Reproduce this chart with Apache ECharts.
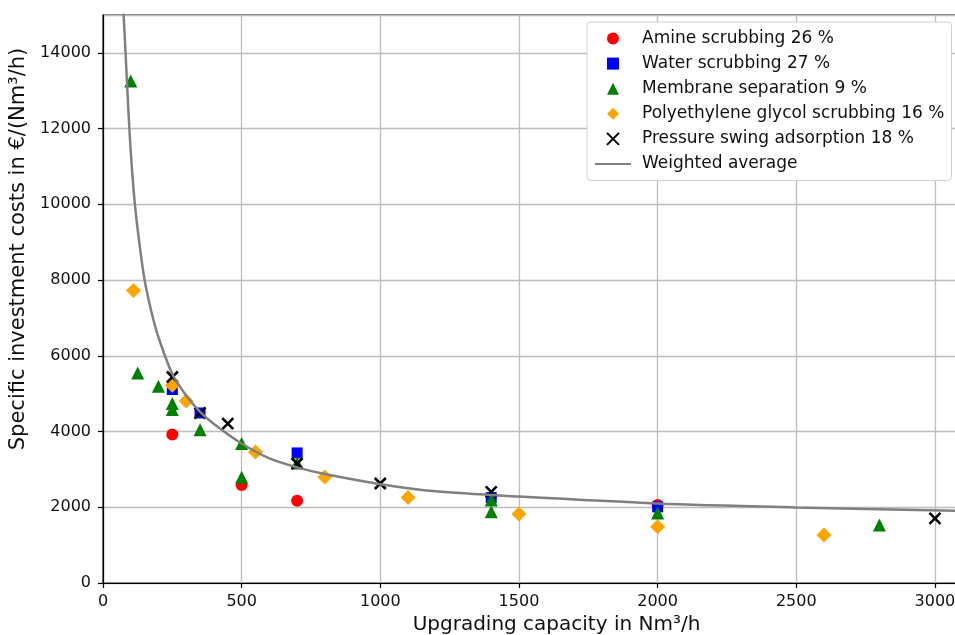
<!DOCTYPE html>
<html>
<head>
<meta charset="utf-8">
<script src="https://cdn.jsdelivr.net/npm/echarts@6/dist/echarts.min.js"></script>
<style>
  html, body { margin: 0; padding: 0; background: #fff; }
  #chart { width: 955px; height: 635px; }
</style>
</head>
<body>
<div id="chart"></div>
<script>
// values
const amineX = [250, 500, 700, 2000]
const amineY = [3920, 2590, 2170, 2060]
const waterX = [250, 350, 700, 1400, 2000]
const waterY = [5110, 4490, 3435, 2255, 2010]
const membraneX = [100, 125, 200, 250, 250, 350, 500, 500, 700, 1400, 1400, 2000, 2800]
const membraneY = [13260, 5545, 5195, 4740, 4580, 4050, 3685, 2790, 3170, 2190, 1880, 1850, 1530]
const pegX = [110, 250, 300, 550, 800, 1100, 1500, 2000, 2600]
const pegY = [7725, 5220, 4805, 3460, 2800, 2260, 1820, 1485, 1265]
const psaX = [250, 350, 450, 700, 1000, 1400, 3000]
const psaY = [5440, 4490, 4210, 3155, 2628, 2405, 1705]
const avgX = [70, 80, 90, 100, 115, 133, 150, 175, 200, 250, 300, 350, 400, 500, 600, 700, 800, 1000, 1200, 1500, 2000, 2500, 3080]
const avgY = [15600, 14200, 12700, 11400, 10000, 8870, 8000, 7150, 6490, 5520, 4950, 4517, 4200, 3683, 3290, 3054, 2877, 2610, 2420, 2282, 2100, 1996, 1905]

const xTicks = [0, 500, 1000, 1500, 2000, 2500, 3000]
const yTicks = [0, 2000, 4000, 6000, 8000, 10000, 12000, 14000]

const labels = [
    'Amine scrubbing 26 %',
    'Water scrubbing 27 %',
    'Membrane separation 9 %',
    'Polyethylene glycol scrubbing 16 %',
    'Pressure swing adsorption 18 %',
    'Weighted average'
]

const zip = (xs, ys) => xs.map((x, i) => [x, ys[i]])
const font = 'DejaVu Sans'

// marker shapes as paths so the legend keeps them square
const sq = 'path://M0,0L10,0L10,10L0,10Z'
const tri = 'path://M5,0L10,10L0,10Z'
const dia = 'path://M5,0L10,5L5,10L0,5Z'
const cross = 'path://M0,0L10,10M10,0L0,10'

let myEcharts = echarts.init(document.getElementById('chart'))

const scatter = (name, xs, ys, symbol, size, color, extra) => Object.assign({
    name: name,
    type: 'scatter',
    data: zip(xs, ys),
    symbol: symbol,
    symbolSize: size,
    symbolKeepAspect: true,
    itemStyle: { color: color, opacity: 1 },
    emphasis: { disabled: true }
}, extra || {})

const option = {
    animation: false,
    grid: {
        // right edge sits just off the picture, as in the cropped original
        left: 103, right: -1, top: 15, bottom: 52,
        outerBoundsMode: 'none',
        show: true, borderColor: '#000', borderWidth: 1.2, backgroundColor: 'transparent'
    },
    legend: {
        orient: 'vertical',
        left: 587, top: 22,
        padding: [8, 7, 8, 7],
        itemWidth: 36, itemHeight: 12,
        itemGap: 8.1,
        symbolKeepAspect: true,
        backgroundColor: '#fff',
        borderColor: '#d0d0d0', borderWidth: 1, borderRadius: 4,
        textStyle: { fontFamily: font, fontSize: 17, color: '#111', lineHeight: 17, padding: [0, 0, 0, 6] },
        data: labels.slice(0, 5).concat([{ name: labels[5], itemStyle: { opacity: 0 } }])
    },
    xAxis: {
        type: 'value',
        min: 0, max: 3076, interval: 500,
        name: 'Upgrading capacity in Nm³/h',
        nameLocation: 'middle', nameGap: 32,
        nameTextStyle: { fontFamily: font, fontSize: 20, color: '#111', padding: [0, 0, 0, 54] },
        axisLine: { show: true, lineStyle: { color: '#000', width: 1.2 } },
        axisTick: { show: true, length: 5, lineStyle: { color: '#000', width: 1.2 } },
        axisLabel: {
            fontFamily: font, fontSize: 16, color: '#111', margin: 11,
            showMaxLabel: false,
            formatter: v => xTicks.includes(v) ? String(v) : ''
        },
        splitLine: { show: true, lineStyle: { color: '#bdbdbd', width: 1.3 } }
    },
    yAxis: {
        type: 'value',
        min: 0, max: 15000, interval: 2000,
        name: 'Specific investment costs in €/(Nm³/h)',
        nameLocation: 'middle', nameGap: 73,
        nameTextStyle: { fontFamily: font, fontSize: 21, color: '#111', padding: [0, 0, 0, 100] },
        axisLine: { show: true, lineStyle: { color: '#000', width: 1.2 } },
        axisTick: { show: true, length: 5, lineStyle: { color: '#000', width: 1.2 } },
        axisLabel: {
            fontFamily: font, fontSize: 16, color: '#111', margin: 12,
            showMaxLabel: false,
            formatter: v => yTicks.includes(v) ? String(v) : ''
        },
        splitLine: { show: true, lineStyle: { color: '#bdbdbd', width: 1.3 } }
    },
    series: [
        scatter(labels[0], amineX, amineY, 'circle', 12, '#ff0000'),
        scatter(labels[1], waterX, waterY, sq, 11, '#0000ff'),
        scatter(labels[2], membraneX, membraneY, tri, 13, '#008000'),
        scatter(labels[3], pegX, pegY, dia, 15, '#ffa500'),
        scatter(labels[4], psaX, psaY, cross, 11, '#000', {
            itemStyle: { color: 'none', borderColor: '#000', borderWidth: 2.6, opacity: 1 }
        }),
        {
            name: labels[5],
            type: 'line',
            data: zip(avgX, avgY),
            smooth: 0.3,
            symbol: 'none',
            showSymbol: false,
            clip: true,
            lineStyle: { color: '#808080', width: 2.5 },
            itemStyle: { color: '#808080', opacity: 0 },
            emphasis: { disabled: true }
        }
    ]
}

myEcharts.setOption(option)
</script>
</body>
</html>
